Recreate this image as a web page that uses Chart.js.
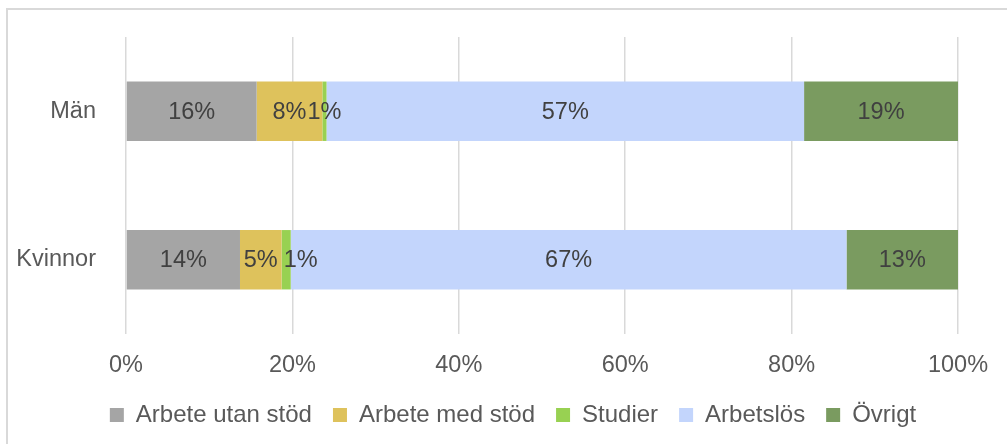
<!DOCTYPE html>
<html>
<head>
<meta charset="utf-8">
<script src="https://cdn.jsdelivr.net/npm/chart.js@4/dist/chart.umd.min.js"></script>
<style>
  html, body { margin: 0; padding: 0; background: #fff; }
  #wrap { position: relative; width: 1007px; height: 444px; }
</style>
</head>
<body>
<div id="wrap"><canvas id="chart"></canvas></div>
<script>
// categories and series (share in percent)
const categories = ['Män', 'Kvinnor'];
const seriesNames = ['Arbete utan stöd', 'Arbete med stöd', 'Studier', 'Arbetslös', 'Övrigt'];
const arbeteUtanStod = [15.7, 13.7];
const arbeteMedStod = [7.9, 5.0];
const studier = [0.5, 1.1];
const arbetslos = [57.4, 66.8];
const ovrigt = [18.5, 13.4];
const tickValues = [0, 20, 40, 60, 80, 100];

const colors = ['#a5a5a5', '#dec25c', '#98d152', '#c3d5fc', '#7a9b60'];
const seriesValues = [arbeteUtanStod, arbeteMedStod, studier, arbetslos, ovrigt];
const FONT = '"Liberation Sans", Arial, sans-serif';

// frame around the chart (top and left edge visible)
const framePlugin = {
    id: 'frame',
    beforeDraw(chart) {
        const ctx = chart.ctx;
        ctx.save();
        ctx.strokeStyle = '#d9d9d9';
        ctx.lineWidth = 2;
        ctx.beginPath();
        ctx.moveTo(7, 444);
        ctx.lineTo(7, 9);
        ctx.lineTo(1007, 9);
        ctx.stroke();
        ctx.restore();
    },
    // legend sits centred on the whole frame, not on the padded box
    afterLayout(chart) {
        if (chart.legend) {
            chart.legend.left += 34;
            chart.legend.right += 34;
        }
    }
};

// percentage labels centred in every segment, pushed right when they collide
const valueLabels = {
    id: 'valueLabels',
    afterDatasetsDraw(chart) {
        const ctx = chart.ctx;
        ctx.save();
        ctx.font = '23.5px ' + FONT;
        ctx.fillStyle = '#404040';
        ctx.textAlign = 'center';
        ctx.textBaseline = 'middle';
        chart.data.labels.forEach((cat, j) => {
            let prevEnd = -Infinity;
            chart.data.datasets.forEach((ds, i) => {
                const bar = chart.getDatasetMeta(i).data[j];
                const text = Math.round(ds.data[j]) + '%';
                const w = ctx.measureText(text).width;
                let cx = (bar.x + bar.base) / 2;
                if (cx - w / 2 < prevEnd) cx = prevEnd + 6 + w / 2;
                ctx.fillText(text, cx, bar.y + 1);
                prevEnd = cx + w / 2;
            });
        });
        ctx.restore();
    }
};

new Chart(document.getElementById('chart'), {
    type: 'bar',
    data: {
        labels: categories,
        datasets: seriesNames.map((name, i) => ({
            label: name,
            data: seriesValues[i],
            backgroundColor: colors[i],
            borderWidth: 0,
            barPercentage: 0.4,
            categoryPercentage: 1.0
        }))
    },
    options: {
        indexAxis: 'y',
        responsive: true,
        maintainAspectRatio: false,
        animation: false,
        layout: { padding: { top: 37, right: 49, left: 0, bottom: 7 } },
        scales: {
            x: {
                stacked: true,
                min: 0,
                max: 100,
                afterBuildTicks(scale) {
                    scale.ticks = tickValues.map(v => ({ value: v }));
                },
                ticks: {
                    callback: v => v + '%',
                    color: '#595959',
                    font: { family: FONT, size: 23.5 },
                    padding: 17,
                    maxRotation: 0
                },
                grid: { color: '#d9d9d9', lineWidth: 1.5, drawTicks: false },
                border: { display: false },
                afterFit(scale) { scale.height = 48; }
            },
            y: {
                stacked: true,
                ticks: {
                    color: '#595959',
                    font: { family: FONT, size: 23.5 },
                    padding: 22
                },
                grid: { display: false },
                border: { display: false },
                afterFit(scale) { scale.width = 126; }
            }
        },
        plugins: {
            legend: {
                position: 'bottom',
                labels: {
                    boxWidth: 14,
                    boxHeight: 14,
                    padding: 21,
                    color: '#595959',
                    font: { family: FONT, size: 24 }
                }
            },
            tooltip: { enabled: false }
        }
    },
    plugins: [framePlugin, valueLabels]
});
</script>
</body>
</html>
